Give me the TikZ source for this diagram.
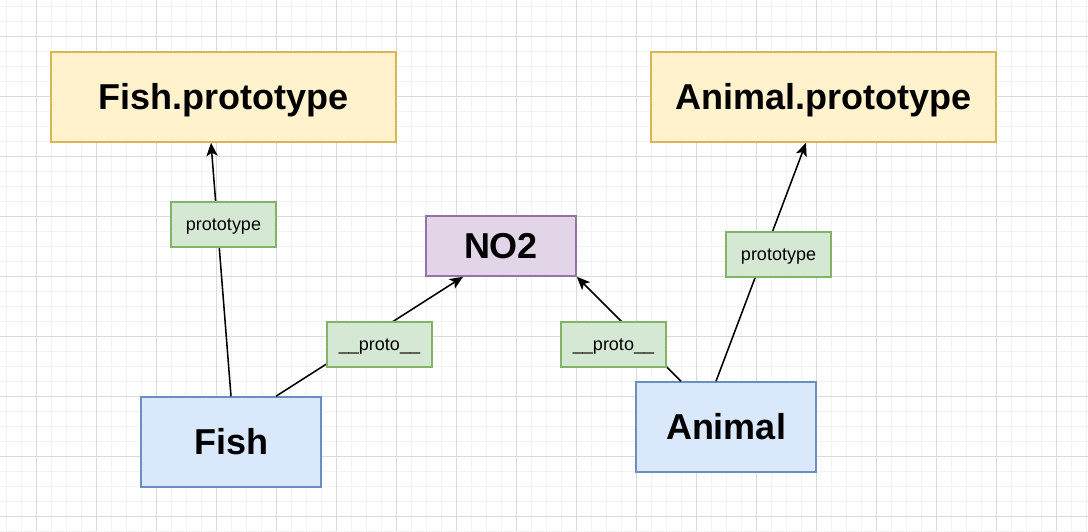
\documentclass[tikz,border=0pt]{standalone}
\usepackage{fontspec}
\setmainfont{Liberation Sans}
\usepackage{xcolor}
\usepackage{tikz}
\usetikzlibrary{arrows.meta}
\definecolor{protofill}{HTML}{FFF2CC}
\definecolor{protoline}{HTML}{D6B656}
\definecolor{objfill}{HTML}{DAE8FC}
\definecolor{objline}{HTML}{6C8EBF}
\definecolor{nofill}{HTML}{E1D5E7}
\definecolor{noline}{HTML}{9673A6}
\definecolor{lblfill}{HTML}{D5E8D4}
\definecolor{lblline}{HTML}{82B366}
\definecolor{gridminor}{HTML}{F3F3F3}
\definecolor{gridmajor}{HTML}{DADADA}
\tikzstyle{protobox} = [rectangle, minimum width=8.625cm, minimum height=2.25cm, text centered, draw=protoline, fill=protofill, line width=1.1pt, font=\fontsize{25.6}{30}\selectfont\bfseries, text height=18.3pt, text depth=0pt]
\tikzstyle{objbox} = [rectangle, minimum width=4.5cm, minimum height=2.25cm, text centered, draw=objline, fill=objfill, line width=1.1pt, font=\fontsize{25.6}{30}\selectfont\bfseries, text height=18.3pt, text depth=0pt]
\tikzstyle{nobox} = [rectangle, minimum width=3.75cm, minimum height=1.5cm, text centered, draw=noline, fill=nofill, line width=1.1pt, font=\fontsize{25.6}{30}\selectfont\bfseries, text height=18.3pt, text depth=0pt]
\tikzstyle{lbl} = [rectangle, minimum width=2.625cm, minimum height=1.125cm, text centered, draw=lblline, fill=lblfill, line width=1.1pt, font=\fontsize{12.8}{15}\selectfont, text height=9.2pt, text depth=0pt]
\tikzstyle{arrow} = [line width=1.1pt, -{Stealth[length=0.33cm, width=0.28cm, inset=0.08cm]}]
\begin{document}
\begin{tikzpicture}
    \useasboundingbox (0,0) rectangle (27.2,-13.275);
    \fill [white] (0,0) rectangle (27.2,-13.275);
    % background grid
    \foreach \x in {0.15,0.525,...,27.2} \draw [gridminor, line width=0.6pt] (\x,0) -- (\x,-13.275);
    \foreach \y in {-0.15,-0.525,...,-13.275} \draw [gridminor, line width=0.6pt] (0,\y) -- (27.2,\y);
    \foreach \x in {0.9,2.4,...,27.2} \draw [gridmajor, line width=0.6pt] (\x,0) -- (\x,-13.275);
    \foreach \y in {-0.9,-2.4,...,-13.275} \draw [gridmajor, line width=0.6pt] (0,\y) -- (27.2,\y);
    % boxes
    \node (fishproto) [protobox] at (5.5875,-2.425) {Fish.prototype};
    \node (animalproto) [protobox, right of=fishproto, node distance=15cm] {Animal.prototype};
    \node (fish) [objbox, below of=fishproto, node distance=8.625cm, xshift=0.1875cm] {Fish};
    \node (animal) [objbox, below of=animalproto, node distance=8.25cm, xshift=-2.4375cm] {Animal};
    \node (no2) [nobox] at (12.525,-6.15) {NO2};
    % links
    \draw [arrow] (fish.north) -- ([xshift=-0.3125cm]fishproto.south);
    \draw [arrow] ([xshift=1.125cm]fish.north) -- ([xshift=-0.95cm]no2.south);
    \draw [arrow] ([xshift=-1.125cm]animal.north) -- (no2.south east);
    \draw [arrow] ([xshift=-0.25cm]animal.north) -- ([xshift=-0.4375cm]animalproto.south);
    % link labels
    \node (fishprotolbl) [lbl, below of=fishproto, node distance=3.1875cm] {prototype};
    \node (fishnolbl) [lbl, above of=fish, node distance=2.4375cm, xshift=3.7125cm] {\_\_proto\_\_};
    \node (animalnolbl) [lbl, above of=animal, node distance=2.0625cm, xshift=-2.8125cm] {\_\_proto\_\_};
    \node (animalprotolbl) [lbl, above of=animal, node distance=4.3125cm, xshift=1.3125cm] {prototype};
\end{tikzpicture}
\end{document}
